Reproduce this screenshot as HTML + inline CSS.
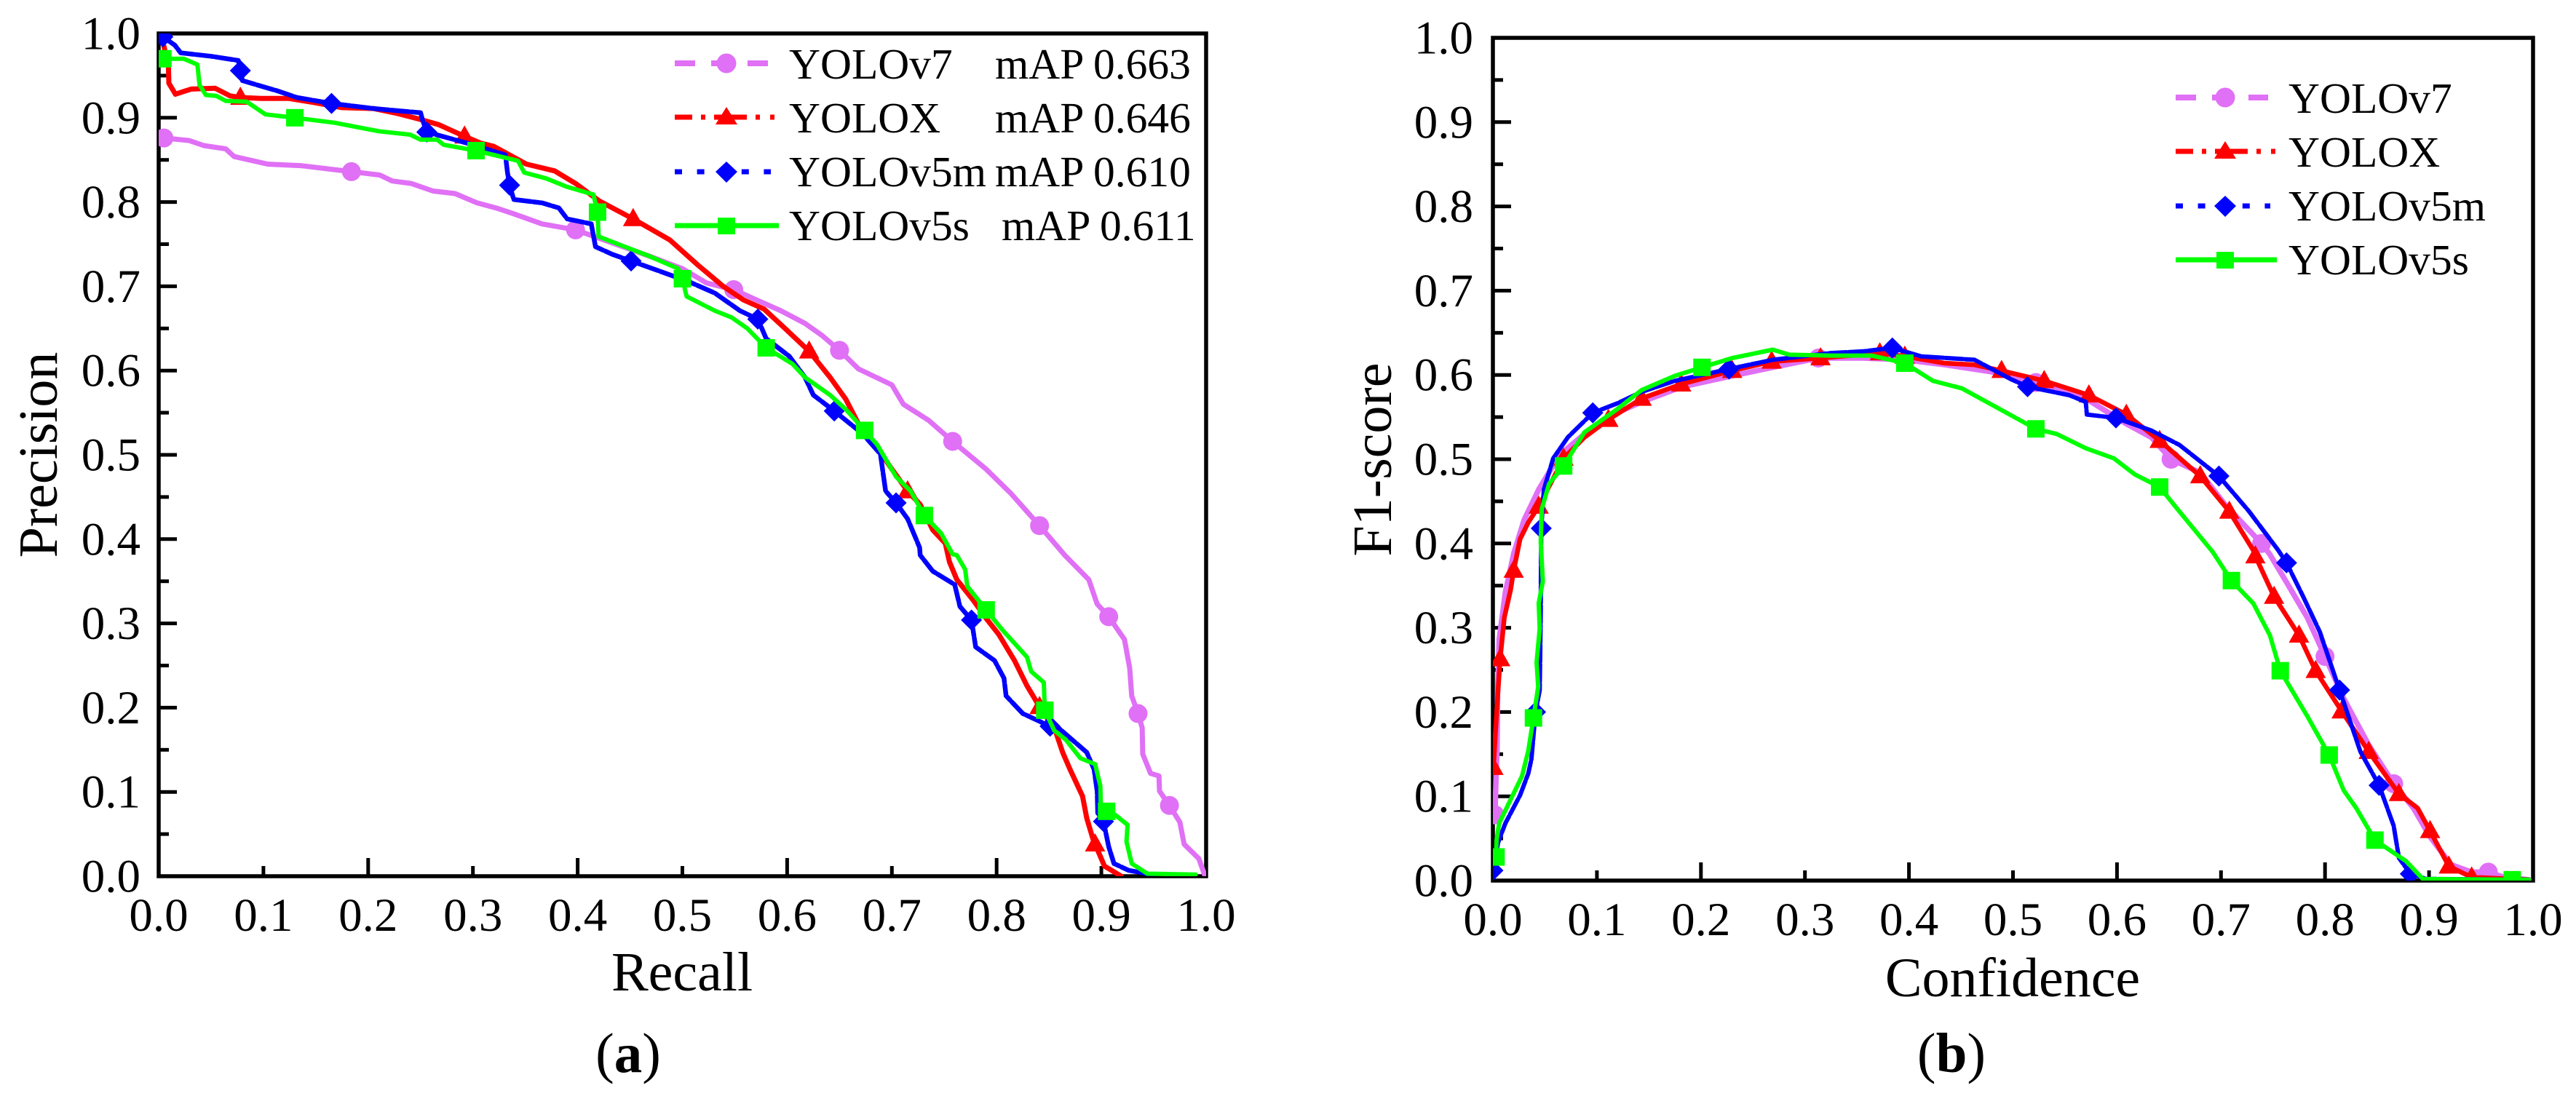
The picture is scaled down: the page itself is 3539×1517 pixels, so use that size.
<!DOCTYPE html>
<html lang="en">
<head>
<meta charset="utf-8">
<title>Precision-Recall and F1-score curves</title>
<style>
html,body{margin:0;padding:0;background:#fff;}
svg{display:block;}
text{font-family:"Liberation Serif",serif;fill:#000;}
</style>
</head>
<body>
<svg id="fig" xmlns="http://www.w3.org/2000/svg" width="3539" height="1517" viewBox="0 0 3539 1517">
  <defs>
    <clipPath id="clip-a"><rect x="218" y="46" width="1439" height="1158"/></clipPath>
    <clipPath id="clip-b"><rect x="2051" y="52" width="1429" height="1158"/></clipPath>
  </defs>
  <rect x="0" y="0" width="3539" height="1517" fill="#fff"/>
  <g id="panel-a"></g>
  <g id="panel-b"></g>

  <g font-size="59.5">
    <g>
      <line x1="927" y1="87" x2="1056" y2="87" stroke="#e070f5" stroke-width="8" stroke-dasharray="28 22"/>
      <circle cx="998" cy="87" r="13.5" fill="#e070f5"/>
      <text x="1084" y="108">YOLOv7</text>
      <text x="1367" y="108">mAP 0.663</text>
    </g>
    <g>
      <line x1="927" y1="161" x2="1068" y2="161" stroke="#ff0000" stroke-width="7" stroke-dasharray="24 12 6 12 45 12 6 14 6"/>
      <polygon points="998,147 1013,171 983,171" fill="#ff0000"/>
      <text x="1084" y="182">YOLOX</text>
      <text x="1367" y="182">mAP 0.646</text>
    </g>
    <g>
      <line x1="927" y1="236" x2="1059" y2="236" stroke="#0000ff" stroke-width="7" stroke-dasharray="10 20.6"/>
      <polygon points="998,222 1013,236 998,251 983,236" fill="#0000ff"/>
      <text x="1084" y="256">YOLOv5m</text>
      <text x="1367" y="256">mAP 0.610</text>
    </g>
    <g>
      <line x1="927" y1="310" x2="1070" y2="310" stroke="#00ff00" stroke-width="7"/>
      <rect x="986" y="299" width="24" height="23" fill="#00ff00"/>
      <text x="1084" y="330">YOLOv5s</text>
      <text x="1376" y="330">mAP 0.611</text>
    </g>
  </g>

  <g font-size="59.5">
    <g>
      <line x1="2989" y1="134" x2="3116" y2="134" stroke="#e070f5" stroke-width="8" stroke-dasharray="28 22"/>
      <circle cx="3057" cy="134" r="13.5" fill="#e070f5"/>
      <text x="3144" y="155">YOLOv7</text>
    </g>
    <g>
      <line x1="2989" y1="208" x2="3128" y2="208" stroke="#ff0000" stroke-width="7" stroke-dasharray="24 12 6 12 45 12 6 14 6"/>
      <polygon points="3057,194 3072,218 3042,218" fill="#ff0000"/>
      <text x="3144" y="229">YOLOX</text>
    </g>
    <g>
      <line x1="2989" y1="283" x2="3119" y2="283" stroke="#0000ff" stroke-width="7" stroke-dasharray="10 20.6"/>
      <polygon points="3057,269 3072,283 3057,298 3042,283" fill="#0000ff"/>
      <text x="3144" y="303">YOLOv5m</text>
    </g>
    <g>
      <line x1="2989" y1="357" x2="3128" y2="357" stroke="#00ff00" stroke-width="7"/>
      <rect x="3045" y="346" width="24" height="23" fill="#00ff00"/>
      <text x="3144" y="377">YOLOv5s</text>
    </g>
  </g>

  <text x="937" y="1361" font-size="76" text-anchor="middle">Recall</text>
  <text x="78" y="625" font-size="76" text-anchor="middle" transform="rotate(-90 78 625)">Precision</text>
  <text x="2765" y="1369" font-size="76" text-anchor="middle">Confidence</text>
  <text x="1911" y="631.5" font-size="76" text-anchor="middle" transform="rotate(-90 1911 631.5)">F1-score</text>
  <text x="863" y="1473" font-size="77" text-anchor="middle">(<tspan font-weight="bold">a</tspan>)</text>
  <text x="2681" y="1473" font-size="77" text-anchor="middle">(<tspan font-weight="bold">b</tspan>)</text>
</svg>

<script>
// ---- shared tick labels ----
const tickLabels = ["0.0","0.1","0.2","0.3","0.4","0.5","0.6","0.7","0.8","0.9","1.0"];
const tickValues = [0,0.1,0.2,0.3,0.4,0.5,0.6,0.7,0.8,0.9,1.0];
const yMinorValues = [0.05,0.15,0.25,0.35,0.45,0.55,0.65,0.75,0.85,0.95];
const xLongTicks = [0.2,0.4,0.6,0.8];
const xShortTicks = [0.1,0.3,0.5,0.7,0.9];

// ---- panel (a): Precision vs Recall ----
const recallV7 = [.005,.029,.043,.064,.072,.104,.137,.184,.211,.223,.241,.262,.283,.304,.322,.339,.366,.398,.425,.468,.5,.523,.549,.574,.594,.617,.633,.65,.668,.7,.711,.735,.758,.79,.813,.841,.865,.888,.896,.907,.922,.927,.929,.935,.939,.9395,.947,.955,.9555,.965,.975,.979,.993,.999];
const precisionV7 = [.876,.873,.867,.863,.854,.845,.843,.836,.832,.825,.822,.813,.81,.799,.793,.786,.774,.767,.755,.736,.721,.704,.696,.682,.671,.656,.642,.624,.602,.583,.56,.541,.516,.483,.455,.416,.381,.352,.323,.308,.281,.247,.214,.193,.176,.145,.122,.119,.101,.084,.064,.038,.021,0];
const markerRecallV7 = [.005,.184,.398,.549,.65,.758,.841,.907,.935,.965];

const recallX = [.005,.0093,.0097,.016,.031,.054,.068,.078,.098,.124,.149,.175,.205,.228,.247,.267,.292,.307,.32,.351,.378,.398,.421,.453,.488,.515,.539,.558,.578,.598,.621,.641,.656,.668,.684,.7,.715,.727,.739,.751,.755,.762,.778,.79,.802,.817,.829,.841,.856,.863,.87,.882,.886,.892,.894,.903,.919];
const precisionX = [.985,.96,.941,.928,.934,.935,.926,.924,.923,.923,.918,.912,.911,.905,.899,.892,.878,.87,.866,.845,.837,.822,.801,.78,.755,.725,.7,.684,.673,.65,.623,.592,.566,.537,.512,.483,.457,.441,.411,.395,.373,.352,.327,.306,.287,.256,.226,.201,.173,.147,.127,.095,.069,.044,.038,.012,0];
const markerRecallX = [.078,.292,.453,.621,.715,.841,.894];

const recallV5m = [.004,.0155,.021,.05,.076,.078,.08,.113,.132,.165,.205,.231,.25,.252,.256,.294,.331,.333,.335,.339,.366,.382,.39,.413,.417,.433,.451,.476,.507,.531,.555,.572,.58,.602,.617,.625,.645,.672,.689,.694,.704,.715,.7265,.727,.739,.76,.765,.776,.78,.798,.807,.809,.825,.851,.859,.886,.893,.896,.8965,.902,.907,.912,.926,.944,.949];
const precisionV5m = [.996,.986,.977,.973,.968,.956,.944,.932,.924,.917,.911,.908,.906,.897,.883,.87,.856,.835,.82,.803,.799,.793,.78,.774,.747,.738,.73,.719,.705,.692,.671,.661,.638,.617,.592,.571,.552,.525,.501,.457,.443,.424,.39,.381,.362,.346,.32,.304,.272,.256,.235,.214,.193,.178,.176,.147,.127,.101,.075,.065,.035,.015,.007,.003,0];
const markerRecallV5m = [.004,.078,.165,.256,.335,.451,.572,.645,.704,.776,.851,.902];

const recallV5s = [.004,.024,.037,.039,.045,.055,.064,.084,.102,.13,.168,.21,.24,.25,.266,.272,.303,.343,.349,.37,.39,.415,.419,.42,.445,.468,.496,.5,.504,.531,.547,.562,.58,.605,.617,.641,.656,.674,.686,.704,.718,.731,.747,.758,.762,.77,.772,.79,.805,.829,.833,.845,.846,.855,.866,.88,.894,.899,.8995,.905,.913,.925,.924,.929,.944,.99];
const precisionV5s = [.97,.97,.963,.939,.927,.926,.92,.919,.904,.9,.894,.884,.88,.874,.874,.868,.861,.849,.835,.828,.818,.809,.788,.759,.747,.736,.721,.709,.688,.671,.663,.65,.627,.608,.592,.571,.554,.529,.512,.474,.457,.428,.407,.382,.381,.364,.344,.316,.293,.26,.243,.23,.197,.173,.162,.14,.133,.107,.08,.077,.073,.061,.041,.015,.003,.002];
const markerRecallV5s = [.004,.13,.303,.419,.5,.58,.674,.731,.79,.846,.905];

// ---- panel (b): F1-score vs Confidence ----
const confV7 = [.002,.003,.004,.0045,.006,.012,.02,.03,.044,.064,.096,.119,.143,.182,.23,.269,.313,.356,.396,.435,.483,.522,.57,.609,.633,.652,.68,.704,.739,.747,.763,.783,.8,.818,.842,.866,.885,.901,.921,.941,.957,.972,.996];
const f1V7 = [.078,.121,.154,.22,.286,.342,.388,.428,.464,.505,.538,.555,.568,.586,.599,.609,.62,.62,.618,.612,.603,.591,.572,.542,.526,.5,.484,.446,.4,.387,.354,.312,.266,.216,.161,.115,.086,.052,.019,.01,.01,.004,.001];
const markerConfV7 = [.002,.313,.522,.652,.739,.8,.866,.957];

const confX = [.0005,.003,.005,.007,.011,.017,.02,.026,.034,.044,.068,.088,.111,.143,.181,.23,.268,.315,.372,.396,.434,.463,.489,.53,.573,.609,.641,.68,.708,.731,.733,.751,.775,.791,.816,.842,.871,.889,.901,.919,.941,.996];
const f1X = [.134,.187,.226,.263,.312,.345,.368,.405,.425,.444,.501,.526,.547,.572,.589,.605,.616,.62,.626,.622,.614,.612,.605,.593,.576,.553,.522,.48,.438,.392,.385,.337,.291,.249,.201,.153,.103,.086,.059,.017,.004,.001];
const markerConfX = [.0005,.007,.02,.044,.068,.111,.143,.181,.23,.268,.315,.372,.396,.489,.53,.573,.609,.641,.68,.708,.733,.751,.775,.791,.816,.842,.871,.901,.919,.941];

const confV5m = [0,.005,.012,.026,.034,.037,.041,.045,.0455,.046,.0462,.0465,.049,.058,.072,.096,.119,.143,.175,.227,.269,.325,.356,.384,.412,.463,.498,.514,.554,.57,.571,.599,.633,.66,.698,.727,.755,.763,.779,.795,.814,.834,.852,.866,.871,.882,.897,.996];
const f1V5m = [.012,.045,.068,.101,.127,.144,.2,.226,.269,.319,.368,.418,.464,.501,.526,.555,.566,.58,.593,.607,.618,.626,.628,.632,.622,.618,.595,.586,.576,.568,.553,.549,.534,.517,.48,.438,.392,.377,.337,.295,.226,.153,.113,.065,.027,.008,.002,.001];
const markerConfV5m = [0,.041,.0465,.096,.227,.384,.514,.599,.698,.763,.814,.852,.882];

const confV5s = [.003,.0035,.006,.017,.028,.034,.039,.0435,.042,.045,.044,.048,.046,.047,.054,.068,.088,.119,.143,.175,.201,.23,.269,.285,.325,.364,.396,.423,.451,.491,.522,.542,.57,.597,.617,.641,.66,.692,.71,.731,.747,.757,.783,.804,.818,.83,.848,.878,.894,.98,.996];
const f1V5s = [.028,.048,.068,.096,.124,.154,.193,.23,.259,.299,.329,.355,.402,.441,.471,.492,.532,.559,.582,.599,.609,.62,.63,.624,.623,.623,.614,.593,.584,.557,.536,.53,.513,.501,.482,.467,.438,.39,.356,.329,.291,.249,.195,.149,.107,.086,.048,.023,.002,.001,.001];
const markerConfV5s = [.003,.039,.068,.201,.396,.522,.641,.71,.757,.804,.848,.98];

const SVGNS = "http://www.w3.org/2000/svg";
const purple = "#e070f5", red = "#ff0000", blue = "#0000ff", green = "#00ff00";

function setAttrs(node, attrs) {
  Object.keys(attrs).forEach(function (k) { node.setAttribute(k, attrs[k]); });
  return node;
}

function drawAxes(root, box, labelOffsetX, xLabelBaseline) {
  const sx = function (v) { return box.left + v * (box.right - box.left); };
  const sy = function (v) { return box.bottom - v * (box.bottom - box.top); };

  const frame = document.createElementNS(SVGNS, "rect");
  
  
  setAttrs(frame, {x: box.left, y: box.top, width: box.right - box.left, height: box.bottom - box.top, fill: "none", stroke: "#000", "stroke-width": 5.5});
  root.appendChild(frame);

  tickValues.forEach(function (v, i) {
    if (i > 0 && i < tickValues.length - 1) {
      const t = document.createElementNS(SVGNS, "line");
      
      
      setAttrs(t, {x1: box.left, x2: box.left + 25, y1: sy(v), y2: sy(v), stroke: "#000", "stroke-width": 5});
      root.appendChild(t);
    }
    const yl = document.createElementNS(SVGNS, "text");
    
    
    setAttrs(yl, {x: box.left - labelOffsetX, y: sy(v) + 21.5, "font-size": 65, "text-anchor": "end"});
    yl.textContent = tickLabels[i];
    root.appendChild(yl);

    const xl = document.createElementNS(SVGNS, "text");
    
    
    setAttrs(xl, {x: sx(v), y: xLabelBaseline, "font-size": 65, "text-anchor": "middle"});
    xl.textContent = tickLabels[i];
    root.appendChild(xl);
  });

  yMinorValues.forEach(function (v) {
    const t = document.createElementNS(SVGNS, "line");
    
    
    setAttrs(t, {x1: box.left, x2: box.left + 14, y1: sy(v), y2: sy(v), stroke: "#000", "stroke-width": 5});
    root.appendChild(t);
  });
  xLongTicks.forEach(function (v) {
    const t = document.createElementNS(SVGNS, "line");
    
    
    setAttrs(t, {x1: sx(v), x2: sx(v), y1: box.bottom, y2: box.bottom - 25, stroke: "#000", "stroke-width": 5});
    root.appendChild(t);
  });
  xShortTicks.forEach(function (v) {
    const t = document.createElementNS(SVGNS, "line");
    
    
    setAttrs(t, {x1: sx(v), x2: sx(v), y1: box.bottom, y2: box.bottom - 14, stroke: "#000", "stroke-width": 5});
    root.appendChild(t);
  });
}

function drawSeries(root, box, clipId, xs, ys, markerXs, color, width, dash, shape) {
  const sx = function (v) { return box.left + v * (box.right - box.left); };
  const sy = function (v) { return box.bottom - v * (box.bottom - box.top); };

  const g = document.createElementNS(SVGNS, "g");
  
  
  g.setAttribute("clip-path", "url(#" + clipId + ")");
  root.appendChild(g);

  const line = document.createElementNS(SVGNS, "polyline");
  
  
  const pts = xs.map(function (x, i) { return sx(x).toFixed(1) + "," + sy(ys[i]).toFixed(1); }).join(" ");
  setAttrs(line, {points: pts, fill: "none", stroke: color, "stroke-width": width, "stroke-linejoin": "round", "stroke-linecap": "round"});
  if (dash) line.setAttribute("stroke-dasharray", dash);
  g.appendChild(line);

  markerXs.forEach(function (mx) {
    let best = 0, bestD = Infinity;
    xs.forEach(function (x, i) {
      const d = Math.abs(x - mx);
      if (d < bestD) { bestD = d; best = i; }
    });
    const cx = sx(xs[best]), cy = sy(ys[best]);
    let m;
    if (shape === "circle") {
      m = document.createElementNS(SVGNS, "circle");
      setAttrs(m, {cx: cx, cy: cy, r: 13});
    } else if (shape === "triangle") {
      m = document.createElementNS(SVGNS, "polygon");
      setAttrs(m, {points: cx + "," + (cy - 15) + " " + (cx + 14) + "," + (cy + 10) + " " + (cx - 14) + "," + (cy + 10)});
    } else if (shape === "diamond") {
      m = document.createElementNS(SVGNS, "polygon");
      setAttrs(m, {points: cx + "," + (cy - 14.5) + " " + (cx + 14.5) + "," + cy + " " + cx + "," + (cy + 14.5) + " " + (cx - 14.5) + "," + cy});
    } else {
      m = document.createElementNS(SVGNS, "rect");
      setAttrs(m, {x: cx - 12, y: cy - 12, width: 24, height: 24});
    }
    
    
    m.setAttribute("fill", color);
    g.appendChild(m);
  });
}

const boxA = {left: 218, right: 1657, top: 46, bottom: 1204};
const boxB = {left: 2051, right: 3480, top: 52, bottom: 1210};
const panelA = document.getElementById("panel-a");
const panelB = document.getElementById("panel-b");

drawAxes(panelA, boxA, 25, 1279);
drawSeries(panelA, boxA, "clip-a", recallV7, precisionV7, markerRecallV7, purple, 7, null, "circle");
drawSeries(panelA, boxA, "clip-a", recallX, precisionX, markerRecallX, red, 7, null, "triangle");
drawSeries(panelA, boxA, "clip-a", recallV5m, precisionV5m, markerRecallV5m, blue, 6.5, "24 3", "diamond");
drawSeries(panelA, boxA, "clip-a", recallV5s, precisionV5s, markerRecallV5s, green, 6, null, "square");

drawAxes(panelB, boxB, 27, 1285);
drawSeries(panelB, boxB, "clip-b", confV7, f1V7, markerConfV7, purple, 7.5, null, "circle");
drawSeries(panelB, boxB, "clip-b", confX, f1X, markerConfX, red, 6.5, null, "triangle");
drawSeries(panelB, boxB, "clip-b", confV5m, f1V5m, markerConfV5m, blue, 6, "24 3", "diamond");
drawSeries(panelB, boxB, "clip-b", confV5s, f1V5s, markerConfV5s, green, 6, null, "square");
</script>
</body>
</html>
